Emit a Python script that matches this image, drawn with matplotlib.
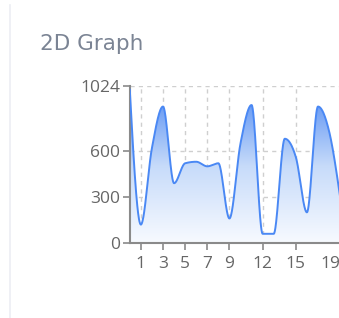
import numpy as np
import matplotlib
matplotlib.use("Agg")
import matplotlib.pyplot as plt
from matplotlib.colors import LinearSegmentedColormap
from matplotlib.lines import Line2D

###############################################################################
# Data
###############################################################################
x_vals = [0, 1, 2, 3, 4, 5, 6, 7, 8, 9, 10, 11, 12, 13, 14, 15, 16, 17, 18, 19]
y_vals = [1000, 120, 620, 890, 390, 520, 530, 500, 520, 160,
          650, 900, 60, 60, 680, 560, 200, 890, 730, 300]
x_ticks = [1, 3, 5, 7, 9, 12, 15, 19]
y_ticks = [0, 300, 600, 1024]

line_color = "#4a88f4"
axis_color = "#8a8a8a"
text_color = "#666666"
title_color = "#7b8494"

###############################################################################
# Monotone cubic curve (like d3.curveMonotoneX) for drawing only
###############################################################################
def monotone_curve(xs, ys, n=40):
    xs = np.asarray(xs, float)
    ys = np.asarray(ys, float)
    h = np.diff(xs)
    s = np.diff(ys) / h
    m = np.zeros_like(ys)
    for i in range(1, len(xs) - 1):
        s0, s1 = s[i - 1], s[i]
        p = (s0 * h[i] + s1 * h[i - 1]) / (h[i - 1] + h[i])
        m[i] = (np.sign(s0) + np.sign(s1)) * min(abs(s0), abs(s1), 0.5 * abs(p))
    m[0] = (3 * s[0] - m[1]) / 2
    m[-1] = (3 * s[-1] - m[-2]) / 2
    cx, cy = [], []
    for i in range(len(xs) - 1):
        t = np.linspace(0, 1, n, endpoint=False)
        h00 = 2 * t**3 - 3 * t**2 + 1
        h10 = t**3 - 2 * t**2 + t
        h01 = -2 * t**3 + 3 * t**2
        h11 = t**3 - t**2
        cx.append(xs[i] + t * h[i])
        cy.append(h00 * ys[i] + h10 * h[i] * m[i] + h01 * ys[i + 1] + h11 * h[i] * m[i + 1])
    cx.append([xs[-1]])
    cy.append([ys[-1]])
    return np.concatenate(cx), np.concatenate(cy)

cx, cy = monotone_curve(x_vals, y_vals)

###############################################################################
# Figure
###############################################################################
fig = plt.figure(figsize=(3.39, 3.18), dpi=100)
fig.patch.set_facecolor("white")

# card border on the left
fig.add_artist(Line2D([9.5 / 339, 9.5 / 339], [0, 1 - 5 / 318],
                      transform=fig.transFigure, color="#eceef3", linewidth=1.2))

fig.text(40 / 339, 1 - 50 / 318, "2D Graph", fontsize=15.5, color=title_color,
         family="DejaVu Sans", va="baseline", ha="left")

ax = fig.add_axes([129.8 / 339, 75 / 318, 221.4 / 339, 157 / 318])
ax.set_xlim(0, 20)
ax.set_ylim(0, 1024)

# gradient fill under the curve
cmap = LinearSegmentedColormap.from_list(
    "blues", [(0.97, 0.98, 1, 1), (0.78, 0.86, 0.98, 1), (0.33, 0.55, 0.95, 1)], N=256)
grad = np.linspace(0, 1, 256).reshape(-1, 1)
top = max(y_vals)
img = ax.imshow(grad, cmap=cmap, aspect="auto", origin="lower",
                extent=[0, 20, 0, top], zorder=1)
poly = ax.fill_between(cx, cy, 0, color="none", linewidth=0)
clip = poly.get_paths()[0]
img.set_clip_path(clip, transform=ax.transData)

ax.plot(cx, cy, color=line_color, linewidth=1.4, zorder=3, clip_on=True)

# grid
ax.set_xticks(x_ticks)
ax.set_yticks(y_ticks)
ax.grid(True, color="#cfcfcf", linestyle=(0, (3, 3)), linewidth=1, zorder=0)
ax.set_axisbelow(True)

for side in ["top", "right"]:
    ax.spines[side].set_visible(False)
for side in ["left", "bottom"]:
    ax.spines[side].set_color(axis_color)
    ax.spines[side].set_linewidth(1.5)

ax.tick_params(axis="both", colors=axis_color, length=5, width=1.2,
               labelcolor=text_color, labelsize=12.5)
ax.tick_params(axis="y", pad=2)
ax.tick_params(axis="x", pad=4)
for lab in ax.get_xticklabels() + ax.get_yticklabels():
    lab.set_family("Open Sans")
# last x label sits inside the visible area
ax.get_xticklabels()[-1].set_horizontalalignment("right")

fig.savefig("out.png", dpi=100, facecolor="white")
